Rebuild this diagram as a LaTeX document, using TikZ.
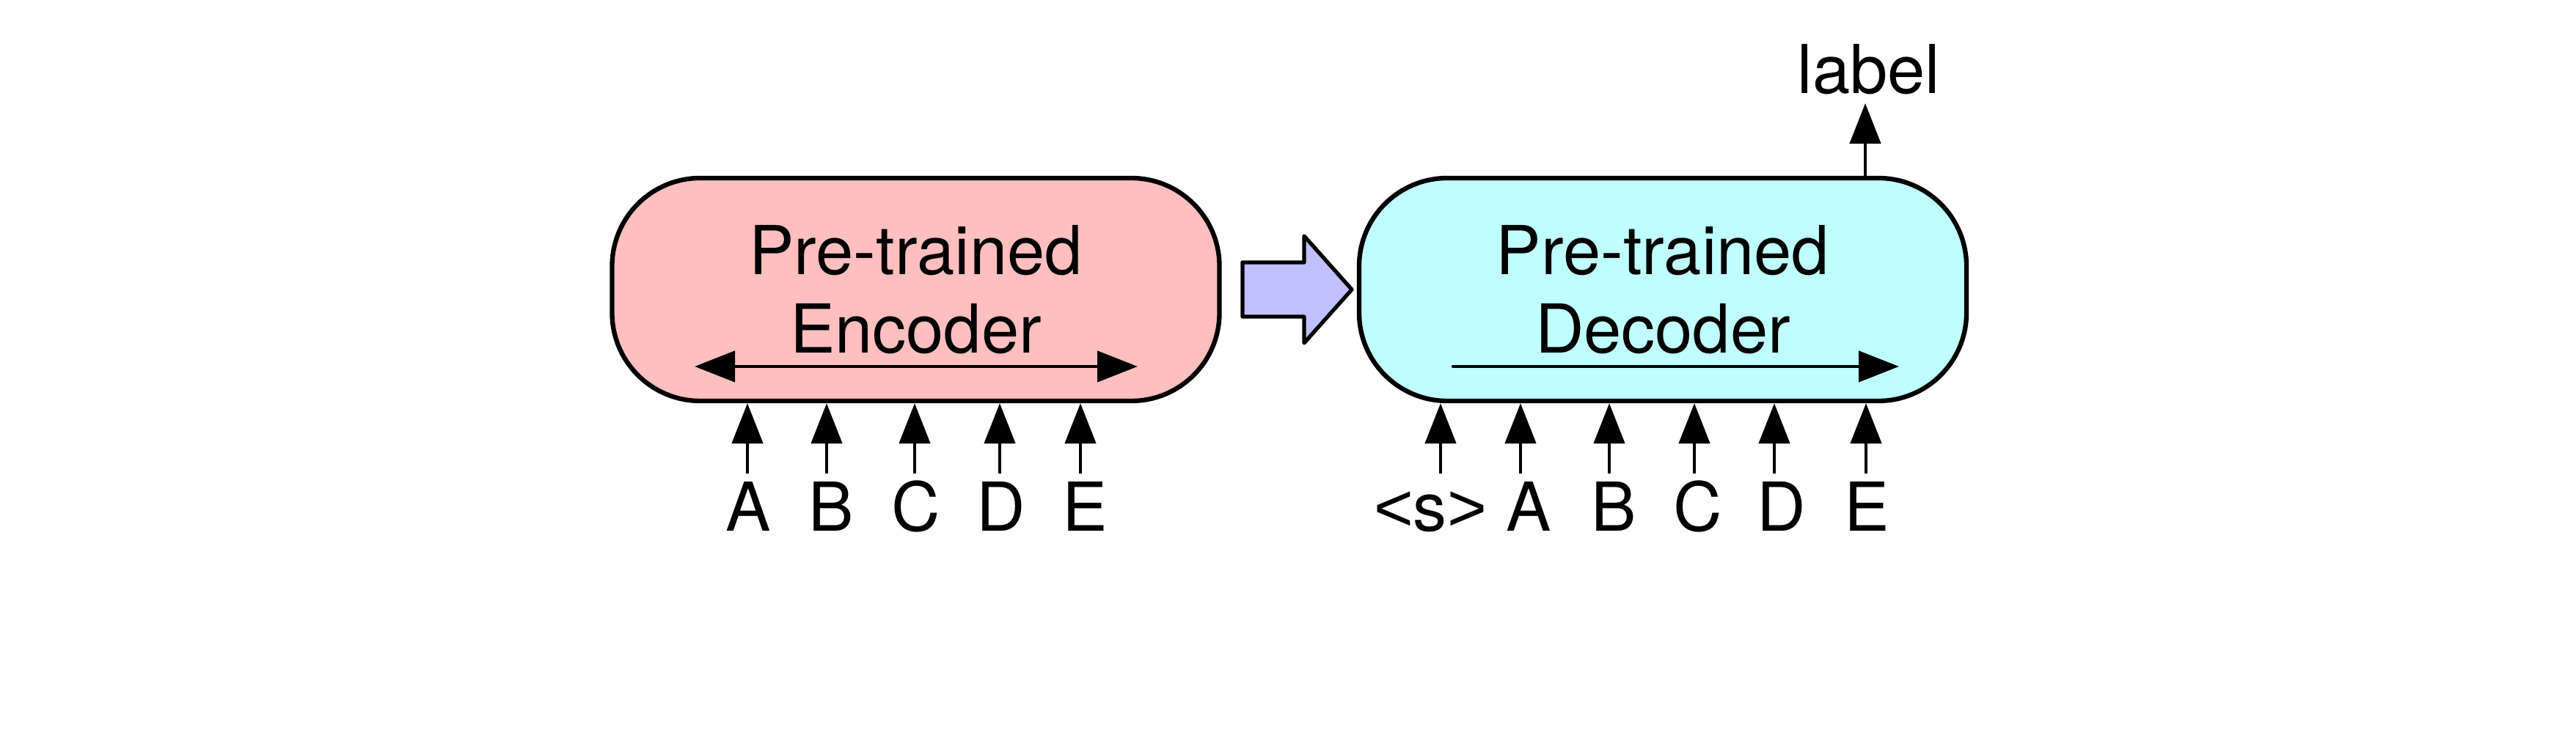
\documentclass[tikz,border=0pt]{standalone}
\usepackage{fontspec}
\setmainfont{TeX Gyre Heros}
\newfontfamily\bracketfont{Liberation Sans}
\usetikzlibrary{arrows.meta}
\definecolor{encpink}{RGB}{255,191,191}
\definecolor{deccyan}{RGB}{191,255,255}
\definecolor{handblue}{RGB}{192,192,255}
\tikzset{
	>={Triangle[length=0.55cm,width=0.42cm]},
	module/.style={draw=black, line width=1.8pt, rounded corners=1.2cm,
		minimum width=8.28cm, minimum height=3.04cm, inner sep=0pt},
	caption/.style={anchor=base, inner sep=0pt},
	token/.style={anchor=base, inner sep=0pt},
	feed/.style={draw=black, line width=1.3pt, ->},
	context/.style={draw=black, line width=1.3pt, line cap=round},
	handover/.style={draw=black, line width=1.5pt, line join=round, fill=handblue},
}

\begin{document}
\begin{tikzpicture}[x=1cm,y=1cm,font=\fontsize{26.2}{30}\selectfont]
	\useasboundingbox (0,0) rectangle (35.12,10);
	\node[module,fill=encpink] (enc) at (12.485,6.05) {};
	\node[module,fill=deccyan] (dec) at (22.67,6.05) {};
	\node[caption] (enctop) at (12.485,6.25) {Pre-trained};
	\node[caption] (encbot) at (12.485,5.18) {Encoder};
	\node[caption] (dectop) at (22.67,6.25) {Pre-trained};
	\node[caption] (decbot) at (22.67,5.18) {Decoder};
	\draw[handover] (16.94,6.42) -- (17.78,6.42) -- (17.78,6.78) -- (18.43,6.05)
		-- (17.78,5.32) -- (17.78,5.68) -- (16.94,5.68) -- cycle;
	\coordinate (encl) at (9.47,5.00);
	\coordinate (encr) at (15.51,5.00);
	\draw[context,<->] (encl) -- (encr);
	\coordinate (decl) at (19.81,5.00);
	\coordinate (decr) at (25.89,5.00);
	\draw[context,->] (decl) -- (decr);
	\node[token] (eA) at (10.20,2.75) {A};
	\node[token] (eB) at (11.33,2.75) {B};
	\node[token] (eC) at (12.49,2.75) {C};
	\node[token] (eD) at (13.65,2.75) {D};
	\node[token] (eE) at (14.79,2.75) {E};
	\coordinate (ea) at (10.19,3.54);
	\coordinate (eb) at (11.27,3.54);
	\coordinate (ec) at (12.47,3.54);
	\coordinate (ed) at (13.63,3.54);
	\coordinate (ee) at (14.73,3.54);
	\draw[feed] (ea) -- (ea |- enc.south);
	\draw[feed] (eb) -- (eb |- enc.south);
	\draw[feed] (ec) -- (ec |- enc.south);
	\draw[feed] (ed) -- (ed |- enc.south);
	\draw[feed] (ee) -- (ee |- enc.south);
	\node[token] (dS) at (19.50,2.75) {{\bracketfont<}s{\bracketfont>}};
	\node[token] (dA) at (20.84,2.75) {A};
	\node[token] (dB) at (22.00,2.75) {B};
	\node[token] (dC) at (23.15,2.75) {C};
	\node[token] (dD) at (24.29,2.75) {D};
	\node[token] (dE) at (25.45,2.75) {E};
	\coordinate (ds) at (19.64,3.54);
	\coordinate (da) at (20.73,3.54);
	\coordinate (db) at (21.94,3.54);
	\coordinate (dc) at (23.10,3.54);
	\coordinate (dd) at (24.19,3.54);
	\coordinate (de) at (25.44,3.54);
	\draw[feed] (ds) -- (ds |- dec.south);
	\draw[feed] (da) -- (da |- dec.south);
	\draw[feed] (db) -- (db |- dec.south);
	\draw[feed] (dc) -- (dc |- dec.south);
	\draw[feed] (dd) -- (dd |- dec.south);
	\draw[feed] (de) -- (de |- dec.south);
	\node[token] (label) at (25.48,8.72) {label};
	\coordinate (out) at (25.43,8.59);
	\draw[feed] (out |- dec.north) -- (out);
\end{tikzpicture}
\end{document}
